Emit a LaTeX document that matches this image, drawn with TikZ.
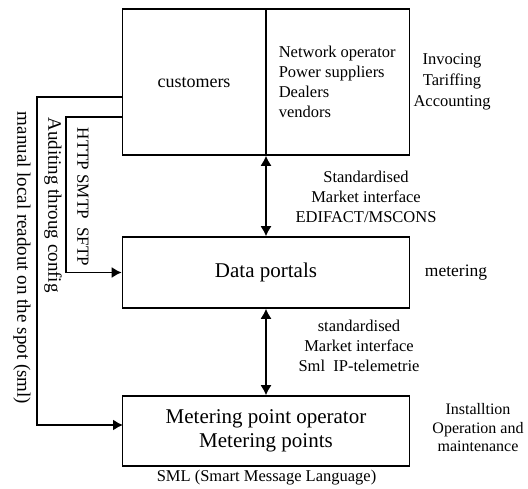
\documentclass[tikz,border=0pt]{standalone}
\usepackage{fontspec}
\usetikzlibrary{arrows.meta}
\setmainfont{Liberation Serif}
\begin{document}
\begin{tikzpicture}[
    x=1pt, y=-1pt,
    >={Latex[length=10pt,width=11pt]},
    line width=1.6pt,
    box/.style={rectangle, draw, inner sep=0pt},
    txt/.style={font=\fontsize{16.5}{20}\selectfont, align=center, inner sep=0pt},
    big/.style={font=\fontsize{21}{24}\selectfont, align=center, inner sep=0pt},
    side/.style={font=\fontsize{19}{22}\selectfont, rotate=-90, inner sep=0pt},
    link/.style={line width=1.3pt}
]
  \useasboundingbox (0,0) rectangle (528,489);

  % nodes
  \node[box, minimum width=287pt, minimum height=146pt] (cust) at (266,82) {};
  \node[box, minimum width=287pt, minimum height=71pt]  (portal) at (266,272.5) {};
  \node[box, minimum width=287pt, minimum height=70pt]  (meter) at (266,431) {};

  \node[txt, font=\fontsize{18}{20}\selectfont] (custtxt) at (194,83) {customers};
  \node[txt, align=left, anchor=west] (actors) at (278,82)
       {Network operator\\Power suppliers\\Dealers\\vendors};
  \node[txt, font=\fontsize{16.5}{21}\selectfont] (billing) at (452,82) {Invocing\\Tariffing\\Accounting};
  \node[big] (portaltxt) at (266,272) {Data portals};
  \node[txt, font=\fontsize{17.5}{20}\selectfont] (metering) at (456,273) {metering};
  \node[big] (metertxt) at (266,431) {Metering point operator\\Metering points};
  \node[txt, font=\fontsize{16}{18.5}\selectfont] (service) at (478,428) {Installtion\\Operation and\\maintenance};
  \node[txt] (iface1) at (366,197) {Standardised\\Market interface\\EDIFACT/MSCONS};
  \node[txt] (iface2) at (359,346) {standardised\\Market interface\\Sml\ \ IP-telemetrie};
  \node[txt] (sml) at (266.5,478) {SML (Smart Message Language)};

  \node[side, font=\fontsize{17}{20}\selectfont] (http) at (83,197) {HTTP SMTP\ \ SFTP};
  \node[side] (audit) at (53,205) {Auditing throug config};
  \node[side] (manual) at (22,258) {manual local readout on the spot (sml)};

  \coordinate (c1) at (123,117.3);
  \coordinate (c2) at (123,97.3);
  \coordinate (m1) at (123,425);

  % edges
  \draw (cust.north) -- (cust.south);
  \draw[link, <->] (cust.south) -- (portal.north);
  \draw[link, <->] (portal.south) -- (meter.north);
  \draw[->] (c1) -- (65.7,117.3) |- (portal.west);
  \draw[->] (c2) -- (37,97.3) |- (m1);
\end{tikzpicture}
\end{document}
